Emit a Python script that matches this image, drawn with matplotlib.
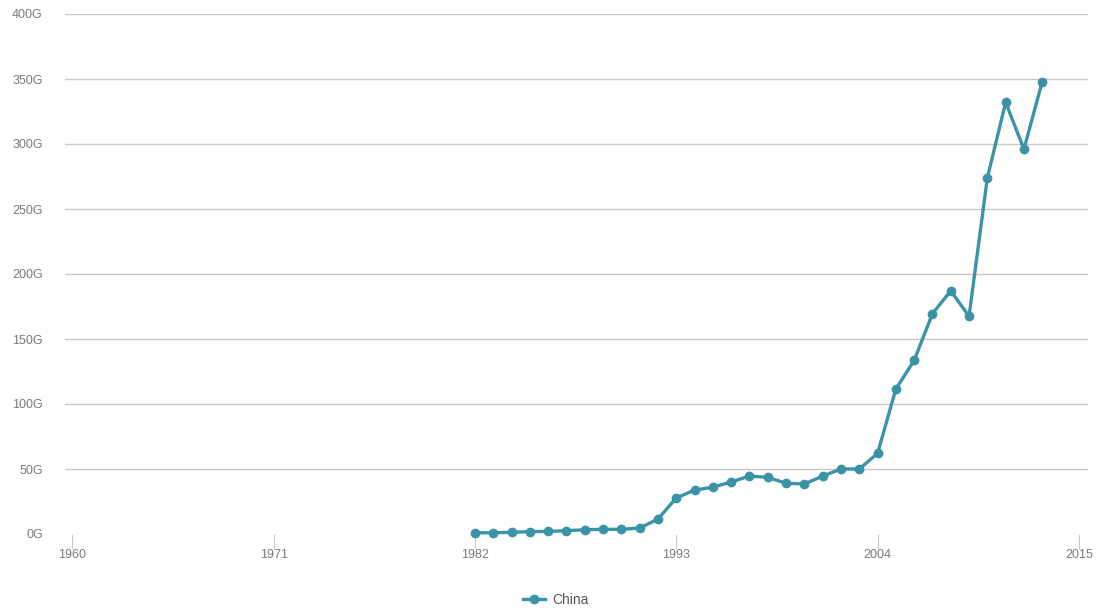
import matplotlib.pyplot as plt
from matplotlib.ticker import FuncFormatter

plt.rcParams['font.family'] = ['Liberation Sans', 'DejaVu Sans']

years = list(range(1982, 2014))
china = [0.9, 1.0, 1.3, 1.8, 2.0, 2.5, 3.3, 3.6, 3.6, 4.6, 11.5, 27.7,
         33.8, 36.0, 40.0, 44.6, 43.6, 39.0, 38.5, 44.5, 50.0, 50.0,
         62.0, 111.5, 133.5, 169.5, 187.0, 167.5, 274.0, 332.0, 296.0, 348.0]

x_ticks = [1960, 1971, 1982, 1993, 2004, 2015]
y_ticks = [0, 50, 100, 150, 200, 250, 300, 350, 400]

color = '#3a93a7'
grey = '#7a7a7a'

fig = plt.figure(figsize=(11.01, 6.10), dpi=100)
ax = fig.add_axes([65 / 1101, 1 - 534 / 610, (1088 - 65) / 1101, 520 / 610])

ax.plot(years, china, '-o', color=color, lw=2.4, ms=6, label='China',
        clip_on=False, zorder=3)

ax.set_xlim(1959.6, 2015.5)
ax.set_ylim(0, 400)
ax.set_xticks(x_ticks)
ax.set_yticks(y_ticks)
ax.yaxis.set_major_formatter(FuncFormatter(lambda v, p: f'{v:.0f}G'))
ax.grid(axis='y', color='#c8c8c8', lw=1)
ax.yaxis.get_gridlines()[0].set_visible(False)  # no baseline in the original
ax.set_axisbelow(True)
for s in ax.spines.values():
    s.set_visible(False)
ax.tick_params(axis='y', length=0, pad=16, labelsize=9, labelcolor=grey)
ax.tick_params(axis='x', length=11, width=0.8, color='#c8c8c8', pad=0,
               labelsize=9, labelcolor=grey)

leg = ax.legend(loc='center', bbox_to_anchor=(0.48, -0.127), frameon=False,
                fontsize=10, handlelength=1.6, handletextpad=0.5)
for t in leg.get_texts():
    t.set_color('#555555')

fig.savefig('out.png', dpi=100)
